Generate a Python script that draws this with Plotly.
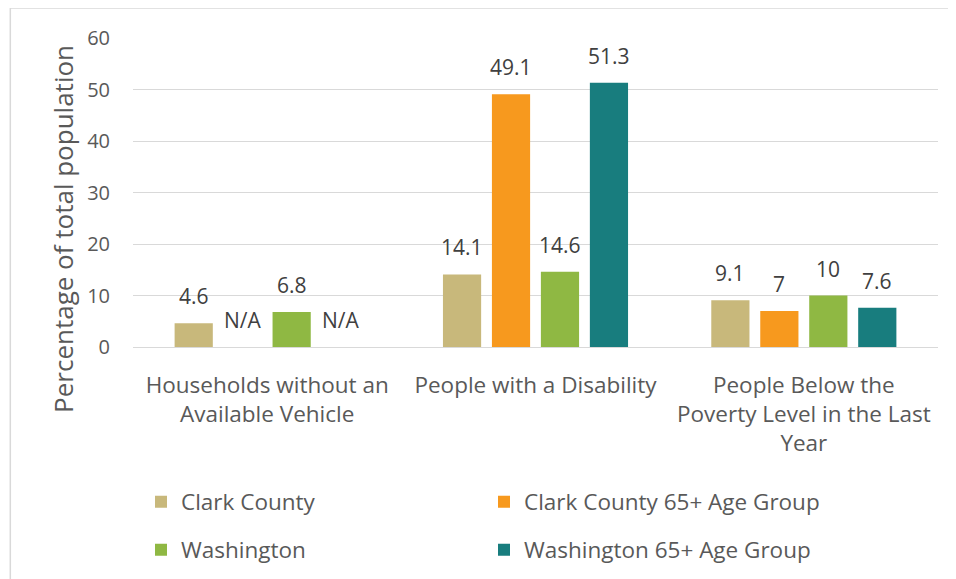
import plotly.graph_objects as go

categories = ["Households without an<br>Available Vehicle",
              "People with a Disability",
              "People Below the<br>Poverty Level in the Last<br>Year"]
series_names = ["Clark County", "Clark County 65+ Age Group",
                "Washington", "Washington 65+ Age Group"]
clark = [4.6, 14.1, 9.1]
clark_65 = [None, 49.1, 7]
washington = [6.8, 14.6, 10]
washington_65 = [None, 51.3, 7.6]
colors = ["#C8B87B", "#F7991E", "#8FB843", "#187D7E"]
y_ticks = [0, 10, 20, 30, 40, 50, 60]
y_title = "Percentage of total population"

series = [clark, clark_65, washington, washington_65]
legends = ["legend", "legend", "legend2", "legend2"]

FONT = "Open Sans"
TXT = "#595959"
bargap = 0.27
bargroupgap = 0.22

# page body has an 8px margin, so the figure is sized/offset accordingly
W, H = 948, 571

fig = go.Figure()
for name, vals, col, lg in zip(series_names, series, colors, legends):
    fig.add_trace(go.Bar(
        x=list(range(len(categories))), y=[v if v is not None else 0 for v in vals],
        name=name, marker=dict(color=col, line=dict(width=0)),
        legend=lg, hoverinfo="skip"))

# data labels
n = len(series)
slot = (1 - bargap) / n
for j, vals in enumerate(series):
    off = -(1 - bargap) / 2 + slot * (j + 0.5)
    for i, v in enumerate(vals):
        fig.add_annotation(
            x=i + off, y=v if v is not None else 0, xref="x", yref="y",
            text="N/A" if v is None else f"{v:g}",
            showarrow=False, yanchor="bottom", yshift=11,
            font=dict(family=FONT, size=21, color="#404040"))

# y-axis title (sits a little below the plot's vertical centre, as in the original)
fig.add_annotation(text=y_title, xref="paper", yref="paper", x=-0.087, y=0.382,
                   xanchor="center", yanchor="middle", textangle=-90,
                   showarrow=False, font=dict(family=FONT, size=26, color=TXT))

# frame
fig.add_shape(type="rect", xref="paper", yref="paper",
              x0=-0.1524, x1=1.2, y0=-1.0, y1=1.097,
              line=dict(color="#D9D9D9", width=1.5), layer="below")

leg_common = dict(orientation="h", xref="container", x=133 / W, xanchor="left",
                  yref="container", yanchor="middle", entrywidth=298,
                  entrywidthmode="pixels", font=dict(size=22.5, color=TXT),
                  itemwidth=30, traceorder="normal", bgcolor="rgba(0,0,0,0)")

fig.update_layout(
    width=W, height=H,
    margin=dict(l=125, r=18, t=30, b=232, autoexpand=False),
    paper_bgcolor="white", plot_bgcolor="white",
    bargap=bargap, bargroupgap=bargroupgap, barmode="group",
    font=dict(family=FONT, color=TXT),
    xaxis=dict(tickmode="array", tickvals=list(range(len(categories))),
               ticktext=categories, range=[-0.5, 2.5], automargin=False,
               tickfont=dict(size=22.5, color=TXT), showgrid=False,
               showline=False, zeroline=False, ticks="", ticklabelstandoff=22),
    yaxis=dict(range=[0, 60], tickvals=y_ticks, showgrid=True, automargin=False,
               gridcolor="#D9D9D9", gridwidth=1.2, zeroline=True,
               zerolinecolor="#D9D9D9", zerolinewidth=1.2,
               tickfont=dict(size=20, color=TXT), ticklabelstandoff=22),
    legend=dict(y=1 - 494 / H, **leg_common),
    legend2=dict(y=1 - 542 / H, **leg_common),
)

fig.write_html("out.html")
